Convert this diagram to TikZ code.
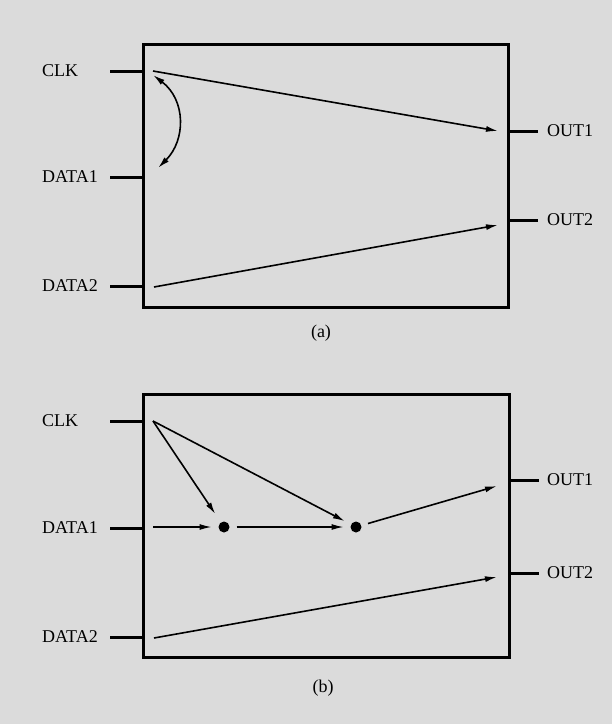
\documentclass[tikz,border=0pt]{standalone}
\usepackage{fontspec}
\setmainfont{Liberation Serif}
\usetikzlibrary{arrows.meta}
\definecolor{paper}{gray}{0.86}
\begin{document}
\begin{tikzpicture}[x=1pt,y=-1pt,
  pinlbl/.style={anchor=west,inner sep=0pt,font=\fontsize{18}{18}\selectfont},
  caplbl/.style={inner sep=0pt,font=\fontsize{18}{18}\selectfont},
  frame/.style={line width=3pt},
  pin/.style={line width=3pt},
  tip/.tip={Latex[length=12pt,width=6pt]},
  sig/.style={line width=1.6pt,-tip},
  dot/.style={circle,fill=black,inner sep=0pt,minimum size=11pt,outer sep=7pt}]
\fill[paper] (0,0) rectangle (612,724);
\useasboundingbox (0,0) rectangle (612,724);

% ---------- (a) ----------
\draw[frame] (143,44) rectangle (508,307);
\node[pinlbl] (aclk) at (42,71) {CLK};
\node[pinlbl] (ad1) at (42,177) {DATA1};
\node[pinlbl] (ad2) at (42,286) {DATA2};
\node[pinlbl] (ao1) at (547,131) {OUT1};
\node[pinlbl] (ao2) at (547,220) {OUT2};
\coordinate (aclkL) at (110,71);  \coordinate (aclkR) at (143,71);
\coordinate (ad1L) at (110,177);  \coordinate (ad1R) at (143,177);
\coordinate (ad2L) at (110,286);  \coordinate (ad2R) at (143,286);
\coordinate (ao1L) at (508,131);  \coordinate (ao1R) at (538,131);
\coordinate (ao2L) at (508,220);  \coordinate (ao2R) at (538,220);
\draw[pin] (aclkL) -- (aclkR);
\draw[pin] (ad1L) -- (ad1R);
\draw[pin] (ad2L) -- (ad2R);
\draw[pin] (ao1L) -- (ao1R);
\draw[pin] (ao2L) -- (ao2R);
\coordinate (aclkI) at (153,71);
\coordinate (ad2I) at (154,287);
\coordinate (ao1I) at (498,131);
\coordinate (ao2I) at (498,225);
\coordinate (askT) at (153,75);
\coordinate (askB) at (158,168);
\draw[sig] (aclkI) -- (ao1I);
\draw[sig] (ad2I) -- (ao2I);
\draw[line width=1.6pt,tip-tip]
  (askT) .. controls (186,100) and (186,140) .. (askB);
\node[caplbl] (capa) at (321,333) {(a)};

% ---------- (b) ----------
\draw[frame] (143,394) rectangle (509,657);
\node[pinlbl] (bclk) at (42,421) {CLK};
\node[pinlbl] (bd1) at (42,528) {DATA1};
\node[pinlbl] (bd2) at (42,637) {DATA2};
\node[pinlbl] (bo1) at (547,480) {OUT1};
\node[pinlbl] (bo2) at (547,573) {OUT2};
\coordinate (bclkL) at (110,421);  \coordinate (bclkR) at (143,421);
\coordinate (bd1L) at (110,528);   \coordinate (bd1R) at (143,528);
\coordinate (bd2L) at (110,637);   \coordinate (bd2R) at (143,637);
\coordinate (bo1L) at (509,480);   \coordinate (bo1R) at (539,480);
\coordinate (bo2L) at (509,573);   \coordinate (bo2R) at (539,573);
\draw[pin] (bclkL) -- (bclkR);
\draw[pin] (bd1L) -- (bd1R);
\draw[pin] (bd2L) -- (bd2R);
\draw[pin] (bo1L) -- (bo1R);
\draw[pin] (bo2L) -- (bo2R);
\node[dot] (s1) at (224,527) {};
\node[dot] (s2) at (356,527) {};
\coordinate (bclkI) at (153,421);
\coordinate (bd1I) at (153,527);
\coordinate (bd2I) at (154,638);
\coordinate (bo1I) at (497,486);
\coordinate (bo2I) at (497,577);
\draw[sig,line width=1.3pt] (bd1I) -- (s1);
\draw[sig,line width=1.3pt] (s1) -- (s2);
\draw[sig,shorten >=3pt] (bclkI) -- (s1);
\draw[sig] (bclkI) -- (s2);
\draw[sig] (s2) -- (bo1I);
\draw[sig] (bd2I) -- (bo2I);
\node[caplbl] (capb) at (323,688) {(b)};
\end{tikzpicture}
\end{document}
